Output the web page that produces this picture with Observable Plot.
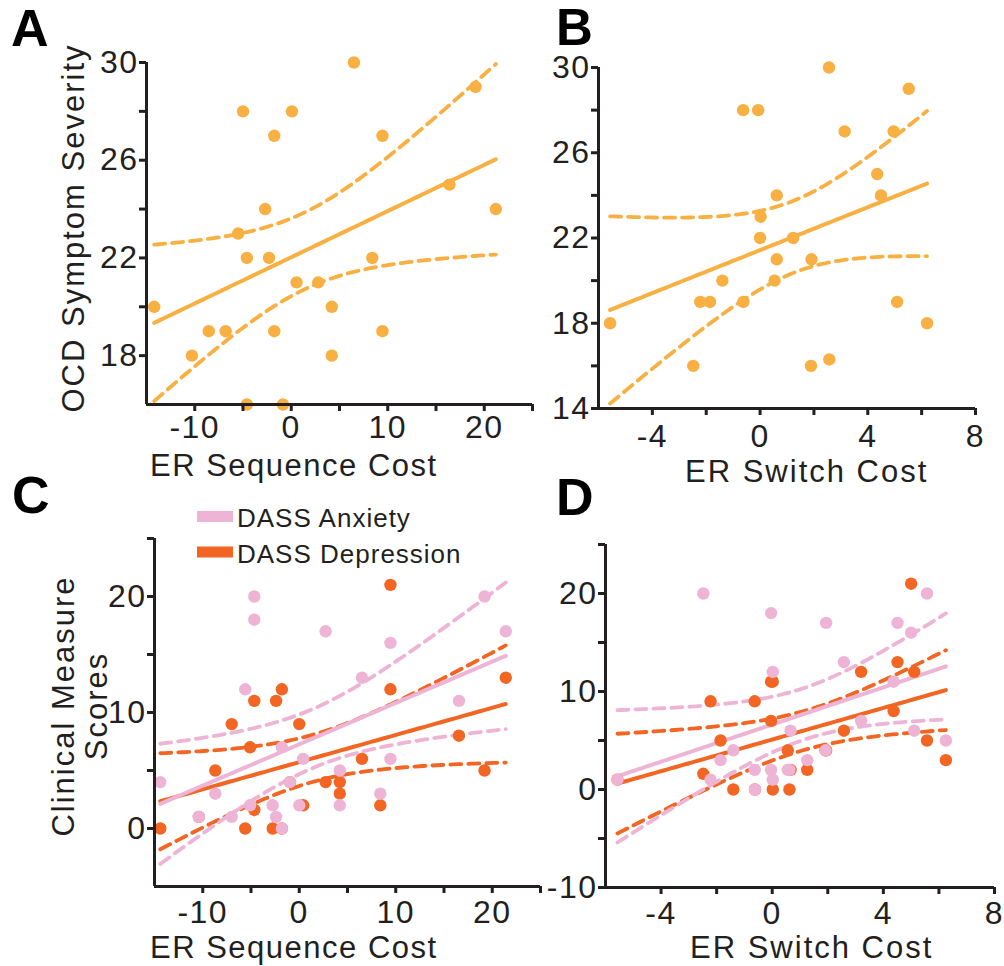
<!DOCTYPE html>
<html>
<head>
<meta charset="utf-8">
<script src="https://cdn.jsdelivr.net/npm/d3@7"></script>
<script src="https://cdn.jsdelivr.net/npm/@observablehq/plot@0.6"></script>
<style>
  body { margin: 0; background: #fff; }
  #chart { position: relative; width: 1004px; height: 966px; overflow: hidden; background: #fff; }
  #chart svg { position: absolute; left: 0; top: 0; }
</style>
</head>
<body>
<div id="chart"></div>
<script>
// ---------- Panel A: ER sequence cost vs OCD symptom severity ----------
const aSeq = [-14.2, -10.3, -8.55, -6.8, -5.5, -5.0, -4.6, -4.6, -2.7, -2.3, -1.76, -1.76, -0.86, 0.07, 0.55, 2.8, 4.2, 4.2, 6.5, 8.4, 9.45, 9.45, 16.4, 19.1, 21.2];
const aOcd = [20, 18, 19, 19, 23, 28, 22, 16, 24, 22, 27, 19, 16, 28, 21, 21, 20, 18, 30, 22, 27, 19, 25, 29, 24];

// ---------- Panel B: ER switch cost vs OCD symptom severity ----------
const bSwitch = [-5.57, -2.48, -2.22, -1.86, -1.40, -0.63, -0.62, -0.07, 0.02, 0.00, 0.54, 0.62, 0.62, 1.23, 1.89, 1.91, 2.56, 2.57, 3.14, 4.35, 4.49, 4.96, 5.09, 5.52, 6.20];
const bOcd = [18, 16, 19, 19, 20, 28, 19, 28, 23, 22, 20, 24, 21, 22, 16, 21, 30, 16.3, 27, 25, 24, 27, 19, 29, 18];

// ---------- Panel C: ER sequence cost vs DASS scores ----------
const cSeq = [-14.4, -10.4, -8.7, -7.0, -5.6, -5.1, -4.66, -4.66, -2.75, -2.4, -1.8, -1.8, -0.96, 0.0, 0.41, 2.73, 4.2, 4.2, 6.5, 8.4, 9.45, 9.45, 16.55, 19.2, 21.4];
const cAnx = [4, 1, 3, 1, 12, 2, 20, 18, 2, 1, 0, 7, 4, 2, 6, 17, 5, 2, 13, 3, 16, 6, 11, 20, 17];
const cDep = [0, 1, 5, 9, 0, 7, 1.6, 11, 0, 11, 0, 12, 4, 9, 2, 4, 3, 4, 6, 2, 21, 12, 8, 5, 13];

// ---------- Panel D: ER switch cost vs DASS scores ----------
const dSwitch = [-5.57, -2.48, -2.22, -1.86, -1.40, -0.63, -0.62, -0.04, 0.02, -0.04, 0.02, 0.56, 0.62, 0.66, 1.26, 1.92, 1.94, 2.58, 3.20, 4.37, 4.51, 5.00, 5.11, 5.57, 6.25];
const dAnx = [1, 20, 1, 3, 4, 2, 0, 18, 12, 2, 1, 2, 2, 6, 3, 4, 17, 13, 7, 11, 17, 16, 6, 20, 5];
const dDep = [1, 1.6, 9, 5, 0, 9, 0, 11, 0, 7, 11, 4, 0, 2, 2, 4, 4, 6, 12, 8, 13, 21, 12, 5, 3];

// ---------- Axis ticks / labels ----------
const seqTicks = [-10, -5, 0, 5, 10, 15, 20, 25];
const seqLabels = [-10, 0, 10, 20];
const switchTicks = [-4, -2, 0, 2, 4, 6, 8];
const switchLabels = [-4, 0, 4, 8];
const aYTicks = [18, 20, 22, 24, 26, 28, 30];
const aYLabels = [18, 22, 26, 30];
const bYTicks = [14, 16, 18, 20, 22, 24, 26, 28, 30];
const bYLabels = [14, 18, 22, 26, 30];
const cYTicks = [0, 5, 10, 15, 20, 25];
const cYLabels = [0, 10, 20];
const dYTicks = [-10, -5, 0, 5, 10, 15, 20, 25];
const dYLabels = [-10, 0, 10, 20];

const legendLabels = ["DASS Anxiety", "DASS Depression"];

// ---------- Styling ----------
const W = 1004, H = 966;
const AXIS = "#231F20";
const C_OCD = "#F9B042", C_ANX = "#EEB4D5", C_DEP = "#F26522";
const FONT = "'Liberation Sans', Arial, Helvetica, sans-serif";
const T95 = 2.0687; // Student t (0.975, df = 23) for the 95% confidence band of the fit

// Least-squares fit with 95% confidence band of the mean, computed from the data
function regressionCurve(xs, ys, steps = 80) {
  const n = xs.length;
  const mx = d3.mean(xs), my = d3.mean(ys);
  const sxx = d3.sum(xs, x => (x - mx) ** 2);
  const sxy = d3.sum(xs, (x, i) => (x - mx) * (ys[i] - my));
  const slope = sxy / sxx, icpt = my - slope * mx;
  const sse = d3.sum(xs, (x, i) => (ys[i] - icpt - slope * x) ** 2);
  const se = Math.sqrt(sse / (n - 2));
  const [x0, x1] = d3.extent(xs);
  return d3.range(steps + 1).map(i => {
    const x = x0 + (x1 - x0) * i / steps;
    const y = icpt + slope * x;
    const h = T95 * se * Math.sqrt(1 / n + (x - mx) ** 2 / sxx);
    return {x, y, lo: y - h, hi: y + h};
  });
}

function panel({frame, xDomain, yDomain, xTicks, xLabels, yTicks, yLabels, xPad, series}) {
  const [l, r, t, b] = frame;
  const lineMarks = [], dotMarks = [];
  for (const s of series) {
    const fit = regressionCurve(s.xs, s.ys);
    lineMarks.push(
      Plot.line(fit, {x: "x", y: "lo", stroke: s.color, strokeWidth: 3.8, strokeDasharray: "11,7"}),
      Plot.line(fit, {x: "x", y: "hi", stroke: s.color, strokeWidth: 3.8, strokeDasharray: "11,7"}),
      Plot.line(fit, {x: "x", y: "y", stroke: s.color, strokeWidth: 4})
    );
    const pts = s.xs.map((x, i) => ({x, y: s.ys[i]}));
    dotMarks.push(Plot.dot(pts, {x: "x", y: "y", r: 6.2, fill: s.color}));
  }
  return Plot.plot({
    width: W, height: H,
    marginLeft: l, marginRight: W - r, marginTop: t, marginBottom: H - b,
    x: {domain: xDomain},
    y: {domain: yDomain},
    style: `background: transparent; overflow: visible; font-family: ${FONT}; letter-spacing: 1.5px;`,
    marks: [
      ...lineMarks,
      ...dotMarks,
      Plot.ruleX([xDomain[0]], {stroke: AXIS, strokeWidth: 3}),
      Plot.ruleY([yDomain[0]], {stroke: AXIS, strokeWidth: 3}),
      Plot.axisX({ticks: xTicks, tickSize: 7, tickPadding: xPad, strokeWidth: 3, color: AXIS, fontSize: 32,
        tickFormat: d => xLabels.includes(d) ? String(d) : "", label: null}),
      Plot.axisY({ticks: yTicks, tickSize: 7, tickPadding: 1, strokeWidth: 3, color: AXIS, fontSize: 32,
        tickFormat: d => yLabels.includes(d) ? String(d) : "", label: null})
    ]
  });
}

const chart = document.getElementById("chart");

chart.append(panel({
  frame: [146, 532, 62, 404], xDomain: [-15, 25], yDomain: [16, 30],
  xTicks: seqTicks, xLabels: seqLabels, yTicks: aYTicks, yLabels: aYLabels, xPad: 4,
  series: [{xs: aSeq, ys: aOcd, color: C_OCD}]
}));
chart.append(panel({
  frame: [598, 975, 67, 408], xDomain: [-6, 8], yDomain: [14, 30],
  xTicks: switchTicks, xLabels: switchLabels, yTicks: bYTicks, yLabels: bYLabels, xPad: 9,
  series: [{xs: bSwitch, ys: bOcd, color: C_OCD}]
}));
chart.append(panel({
  frame: [154, 540, 538, 886], xDomain: [-15, 25], yDomain: [-5, 25],
  xTicks: seqTicks, xLabels: seqLabels, yTicks: cYTicks, yLabels: cYLabels, xPad: 7,
  series: [{xs: cSeq, ys: cDep, color: C_DEP}, {xs: cSeq, ys: cAnx, color: C_ANX}]
}));
chart.append(panel({
  frame: [605, 994, 544, 887], xDomain: [-6, 8], yDomain: [-10, 25],
  xTicks: switchTicks, xLabels: switchLabels, yTicks: dYTicks, yLabels: dYLabels, xPad: 7,
  series: [{xs: dSwitch, ys: dDep, color: C_DEP}, {xs: dSwitch, ys: dAnx, color: C_ANX}]
}));

// ---------- Text overlay: panel letters, axis titles, legend ----------
const svg = d3.create("svg").attr("width", W).attr("height", H)
  .style("font-family", FONT).style("overflow", "visible");
const txt = (x, y, s, o = {}) => {
  const t = svg.append("text").attr("x", x).attr("y", y).text(s)
    .attr("fill", o.fill || AXIS)
    .attr("font-size", o.size || 31)
    .attr("font-weight", o.weight || "normal")
    .attr("letter-spacing", o.ls != null ? o.ls : 2)
    .attr("text-anchor", o.anchor || "start");
  if (o.rotate) t.attr("transform", `rotate(-90 ${x} ${y})`);
  return t;
};
// panel letters
txt(11, 46, "A", {size: 52, weight: "bold", ls: 0, fill: "#000"});
txt(556, 45, "B", {size: 51, weight: "bold", ls: 0, fill: "#000"});
txt(12, 513, "C", {size: 52, weight: "bold", ls: 0, fill: "#000"});
txt(556, 515, "D", {size: 52, weight: "bold", ls: 0, fill: "#000"});
// axis titles
txt(84, 228, "OCD Symptom Severity", {rotate: true, anchor: "middle"});
txt(150, 476, "ER Sequence Cost", {ls: 1.5});
txt(685, 482, "ER Switch Cost");
txt(150, 958, "ER Sequence Cost", {ls: 1.5});
txt(690, 958, "ER Switch Cost");
txt(74, 706, "Clinical Measure", {rotate: true, anchor: "middle"});
txt(107, 706, "Scores", {rotate: true, anchor: "middle"});
// legend
const legendColors = [C_ANX, C_DEP];
legendLabels.forEach((lab, i) => {
  const y = 511 + i * 35.5;
  svg.append("rect").attr("x", 197).attr("y", y).attr("width", 36).attr("height", 11).attr("fill", legendColors[i]);
  txt(237, y + 16, lab, {size: 26, ls: 1});
});
chart.append(svg.node());
</script>
</body>
</html>
